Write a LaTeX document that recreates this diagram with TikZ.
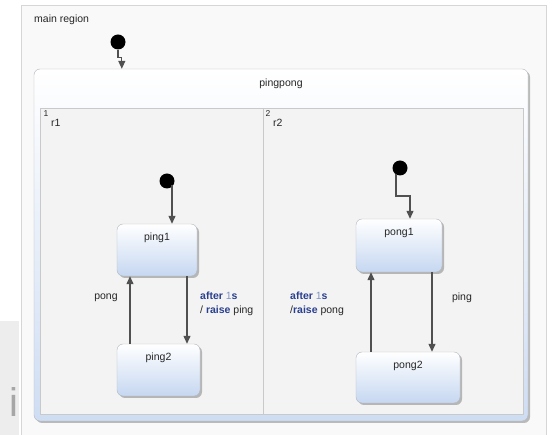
\documentclass[tikz,border=0pt]{standalone}
\usepackage{fontspec}
\setmainfont{Liberation Sans}
\usetikzlibrary{arrows.meta,shadows}
\definecolor{kw}{HTML}{2A3F8F}
\definecolor{num}{HTML}{7F93C4}
\definecolor{arr}{HTML}{505050}
\definecolor{stfill}{HTML}{C6D7F1}
\definecolor{stborder}{HTML}{B2B6BE}
\definecolor{regfill}{HTML}{F3F3F3}
\definecolor{regborder}{HTML}{C9C9C9}
\definecolor{mainfill}{HTML}{F9F9F9}
\definecolor{mainborder}{HTML}{D6D6D6}
\begin{document}
\begin{tikzpicture}[x=1pt,y=-1pt,font=\fontsize{10.5}{12}\selectfont,
  stbox/.style={draw=stborder,rounded corners=6pt,top color=white,bottom color=stfill,
    drop shadow={shadow xshift=2pt,shadow yshift=-2pt,fill=black,opacity=0.25},inner sep=0pt},
  initdot/.style={circle,fill=black,minimum size=15pt,inner sep=0pt},
  tr/.style={draw=arr,line width=1.2pt,-{Triangle[length=8pt,width=7pt]}},
  txt/.style={inner sep=0pt,text=black!85},
  supnum/.style={txt,anchor=west,font=\fontsize{8.5}{9}\selectfont}]
\useasboundingbox (0,0) rectangle (552,435);
\fill[white] (0,0) rectangle (552,435);
% left panel
\fill[black!7] (0,321) rectangle (19,435);
\node[inner sep=0pt,anchor=base,text=black!35,font=\fontsize{40}{40}\selectfont] (info) at (14,417) {i};
% main region
\fill[mainfill] (21,5) rectangle (546,435);
\draw[mainborder,line width=0.8pt] (21,435) -- (21,5) -- (546,5) -- (546,435);
\node[txt,anchor=west] (mainlbl) at (34,20) {main region};
% pingpong composite state
\node[stbox,minimum width=494pt,minimum height=352pt,
  bottom color=stfill!85!white] (pp) at (281,245) {};
\node[txt] (pplbl) at (281,84) {pingpong};
% inner regions
\node[draw=regborder,fill=regfill,line width=0.8pt,minimum width=483pt,minimum height=306pt,inner sep=0pt] (regs) at (281.5,261) {};
\draw[regborder,line width=0.8pt] (263,108) -- (263,414);
\node[supnum] (n1) at (43.5,114) {1};
\node[txt,anchor=west] (r1lbl) at (51,123) {r1};
\node[supnum] (n2) at (265.5,114) {2};
\node[txt,anchor=west] (r2lbl) at (273,123) {r2};
% main initial
\node[initdot] (i0) at (118,42) {};
\draw[tr] (i0.south) -- ++(0,8) -| ([xshift=88pt]pp.north west);
% r1
\node[stbox,minimum width=80pt,minimum height=52pt,
  label={[txt,anchor=north,yshift=-9pt]north:ping1}] (ping1) at (157,250) {};
\node[stbox,minimum width=83pt,minimum height=52pt,
  label={[txt,anchor=north,yshift=-9pt]north:ping2}] (ping2) at (158.5,370) {};
\node[initdot] (i1) at (167,181) {};
\draw[tr] ([xshift=5pt,yshift=-4pt]i1.center) -- ([xshift=15pt]ping1.north);
\draw[tr] ([xshift=-28.5pt]ping2.north) -- ([xshift=-27pt]ping1.south);
\draw[tr] ([xshift=30pt]ping1.south) -- ([xshift=28.5pt]ping2.north);
\node[txt] (l1) at (106,298) {pong};
\node[txt,anchor=north west,align=left,font=\fontsize{10.5}{14}\selectfont] (l2) at (200,292)
  {\textcolor{kw}{\textbf{after}} \textcolor{num}{1}\textcolor{kw}{\textbf{s}}\\/ \textcolor{kw}{\textbf{raise}} ping};
% r2
\node[stbox,minimum width=86pt,minimum height=53pt,
  label={[txt,anchor=north,yshift=-9pt]north:pong1}] (pong1) at (399,245.5) {};
\node[stbox,minimum width=104pt,minimum height=51pt,
  label={[txt,anchor=north,yshift=-9pt]north:pong2}] (pong2) at (408,377.5) {};
\node[initdot] (i2) at (400,168) {};
\draw[tr] ([xshift=-4pt,yshift=-6pt]i2.center) -- ++(0,22) -| ([xshift=11pt]pong1.north);
\draw[tr] ([xshift=-37pt]pong2.north) -- ([xshift=-28pt]pong1.south);
\draw[tr] ([xshift=33pt]pong1.south) -- ([xshift=24pt]pong2.north);
\node[txt,anchor=north west,align=left,font=\fontsize{10.5}{14}\selectfont] (l3) at (290,292)
  {\textcolor{kw}{\textbf{after}} \textcolor{num}{1}\textcolor{kw}{\textbf{s}}\\/\textcolor{kw}{\textbf{raise}} pong};
\node[txt] (l4) at (462,298) {ping};
\end{tikzpicture}
\end{document}
